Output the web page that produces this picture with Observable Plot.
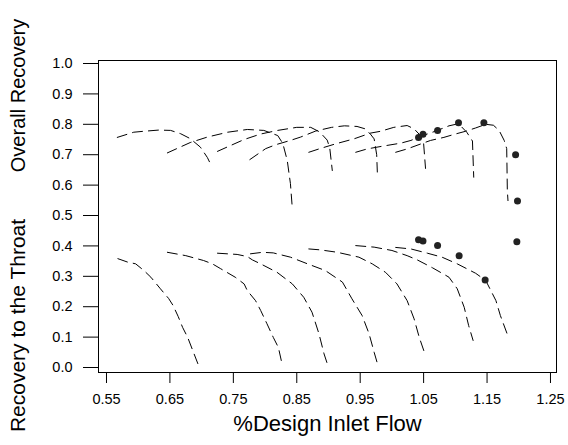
<!DOCTYPE html>
<html>
<head>
<meta charset="utf-8">
<script src="https://cdn.jsdelivr.net/npm/d3@7"></script>
<script src="https://cdn.jsdelivr.net/npm/@observablehq/plot@0.6"></script>
<style>
  html, body { margin: 0; padding: 0; background: #fff; }
</style>
</head>
<body>
<div id="chart"></div>
<script>
// Overall recovery curves (x = %design inlet flow, y = recovery)
const ovr1 = [[0.567,0.757],[0.593,0.774],[0.608,0.777],[0.632,0.781],[0.651,0.780],[0.667,0.769],[0.682,0.753],[0.698,0.725],[0.709,0.691],[0.716,0.661]];
const ovr2 = [[0.646,0.706],[0.682,0.740],[0.709,0.758],[0.741,0.774],[0.772,0.783],[0.798,0.780],[0.820,0.763],[0.828,0.737],[0.835,0.681],[0.840,0.605],[0.843,0.523]];
const ovr3 = [[0.725,0.711],[0.740,0.725],[0.767,0.750],[0.793,0.768],[0.820,0.780],[0.850,0.790],[0.872,0.790],[0.886,0.775],[0.898,0.748],[0.902,0.722],[0.906,0.648]];
const ovr4 = [[0.776,0.684],[0.801,0.720],[0.817,0.733],[0.840,0.747],[0.856,0.758],[0.880,0.778],[0.905,0.790],[0.925,0.795],[0.945,0.793],[0.958,0.785],[0.966,0.768],[0.972,0.752],[0.976,0.700],[0.977,0.643]];
const ovr5 = [[0.869,0.708],[0.885,0.719],[0.910,0.735],[0.940,0.752],[0.966,0.771],[0.982,0.777],[1.003,0.790],[1.024,0.796],[1.035,0.785],[1.045,0.763],[1.050,0.737],[1.053,0.655]];
const ovr6 = [[0.943,0.708],[0.961,0.719],[0.985,0.728],[1.014,0.738],[1.030,0.747],[1.045,0.760],[1.072,0.780],[1.090,0.795],[1.105,0.802],[1.118,0.774],[1.127,0.745],[1.129,0.626]];
const ovr7 = [[1.006,0.708],[1.024,0.719],[1.045,0.735],[1.061,0.747],[1.082,0.757],[1.100,0.768],[1.116,0.777],[1.132,0.788],[1.148,0.800],[1.160,0.797],[1.169,0.780],[1.177,0.747],[1.181,0.720],[1.182,0.582],[1.183,0.549]];

// Recovery to the throat curves
const thr1 = [[0.568,0.358],[0.583,0.347],[0.596,0.341],[0.609,0.319],[0.620,0.297],[0.635,0.259],[0.648,0.227],[0.655,0.204],[0.663,0.168],[0.670,0.132],[0.678,0.099],[0.686,0.056],[0.694,0.013]];
const thr2 = [[0.646,0.379],[0.675,0.368],[0.703,0.352],[0.717,0.341],[0.730,0.325],[0.753,0.297],[0.767,0.275],[0.772,0.253],[0.785,0.220],[0.793,0.188],[0.803,0.144],[0.813,0.099],[0.821,0.066],[0.827,0.010]];
const thr3 = [[0.725,0.376],[0.756,0.372],[0.772,0.365],[0.780,0.354],[0.793,0.341],[0.819,0.313],[0.843,0.275],[0.861,0.231],[0.874,0.182],[0.885,0.111],[0.893,0.045],[0.899,0.007]];
const thr4 = [[0.777,0.374],[0.796,0.379],[0.813,0.377],[0.840,0.363],[0.867,0.341],[0.895,0.319],[0.922,0.281],[0.937,0.226],[0.953,0.171],[0.964,0.111],[0.972,0.050],[0.978,0.007]];
const thr5 = [[0.869,0.390],[0.887,0.387],[0.914,0.379],[0.948,0.363],[0.969,0.341],[0.990,0.313],[1.008,0.275],[1.024,0.220],[1.035,0.160],[1.043,0.100],[1.053,0.039]];
const thr6 = [[0.943,0.401],[0.972,0.396],[1.000,0.385],[1.024,0.368],[1.040,0.354],[1.064,0.328],[1.090,0.297],[1.103,0.259],[1.114,0.198],[1.121,0.138],[1.128,0.089]];
const thr7 = [[1.006,0.395],[1.030,0.390],[1.056,0.376],[1.079,0.363],[1.103,0.341],[1.132,0.310],[1.148,0.286],[1.164,0.220],[1.171,0.171],[1.182,0.109]];

// Measured points
const measOverallX = [1.042, 1.049, 1.072, 1.105, 1.145, 1.195, 1.198];
const measOverallY = [0.757, 0.767, 0.780, 0.805, 0.805, 0.700, 0.548];
const measThroatX  = [1.042, 1.049, 1.072, 1.106, 1.147, 1.197];
const measThroatY  = [0.420, 0.416, 0.401, 0.368, 0.288, 0.414];

// Axis ticks and labels
const xTicks = [0.55, 0.65, 0.75, 0.85, 0.95, 1.05, 1.15, 1.25];
const yTicks = [0, 0.1, 0.2, 0.3, 0.4, 0.5, 0.6, 0.7, 0.8, 0.9, 1.0];
const xTitle = "%Design Inlet Flow";
const yTitleTop = "Overall Recovery";
const yTitleBottom = "Recovery to the Throat";

const curves = [ovr1, ovr2, ovr3, ovr4, ovr5, ovr6, ovr7, thr1, thr2, thr3, thr4, thr5, thr6, thr7];
const lineData = curves.flatMap((c, i) => c.map(([x, y]) => ({x, y, curve: i})));
const dotData = [
  ...measOverallX.map((x, i) => ({x, y: measOverallY[i]})),
  ...measThroatX.map((x, i) => ({x, y: measThroatY[i]}))
];

const chart = Plot.plot({
  width: 568,
  height: 445,
  marginLeft: 98,
  marginRight: 12,
  marginTop: 60,
  marginBottom: 73,
  x: {domain: [0.5374, 1.2595]},
  y: {domain: [-0.0164, 1.0099]},
  style: {fontFamily: "'Liberation Sans', Arial, sans-serif", fontSize: "14px", color: "black", background: "white"},
  marks: [
    Plot.frame({stroke: "black", strokeWidth: 1}),
    Plot.axisX(xTicks, {tickSize: 11, tickPadding: 10, tickFormat: d => d.toFixed(2), label: null, fontSize: 14.5}),
    Plot.axisY(yTicks, {tickSize: 15, tickPadding: 11, tickFormat: d => d.toFixed(1), label: null, fontSize: 14.5}),
    Plot.line(lineData, {x: "x", y: "y", z: "curve", stroke: "black", strokeWidth: 1, strokeDasharray: "10,6"}),
    Plot.dot(dotData, {x: "x", y: "y", r: 3.5, fill: "#222", stroke: "none"}),
    Plot.text([xTitle], {frameAnchor: "bottom", dy: 58, fontSize: 22}),
    Plot.text([yTitleTop], {frameAnchor: "left", textAnchor: "middle", dx: -80, dy: -121, rotate: -90, fontSize: 20}),
    Plot.text([yTitleBottom], {frameAnchor: "left", textAnchor: "middle", dx: -80, dy: 109, rotate: -90, fontSize: 21})
  ]
});
document.getElementById("chart").appendChild(chart);
</script>
</body>
</html>
